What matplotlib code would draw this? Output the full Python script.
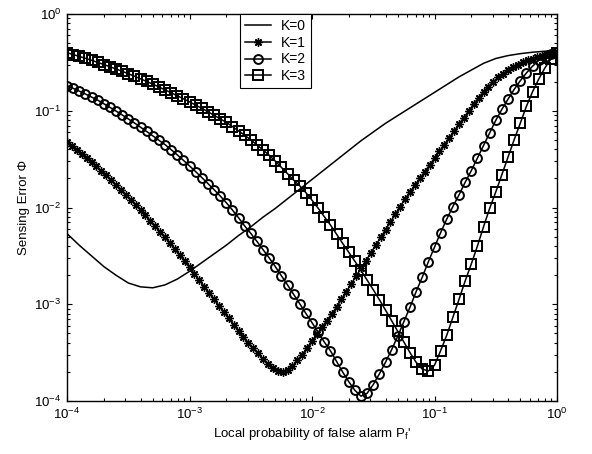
import numpy as np
import matplotlib
matplotlib.use("Agg")
import matplotlib.pyplot as plt
from matplotlib.ticker import LogLocator, NullFormatter

# ---- data (log10 of Pf' grid and log10 of sensing error) ----
labels = ["K=0", "K=1", "K=2", "K=3"]

# K=0 : line only, grid step 0.1 decade
u_k0 = np.linspace(-4, 0, 41)
v_k0 = [-2.27, -2.39, -2.50, -2.61, -2.70, -2.78, -2.82, -2.83, -2.80, -2.74,
        -2.66, -2.57, -2.48, -2.39, -2.29, -2.20, -2.10, -2.01, -1.91, -1.81,
        -1.71, -1.61, -1.51, -1.41, -1.31, -1.22, -1.13, -1.05, -0.97, -0.89,
        -0.81, -0.73, -0.65, -0.58, -0.51, -0.46, -0.43, -0.41, -0.395, -0.385,
        -0.38]

# K=1 : grid step 0.04 decade
u_k1 = np.linspace(-4, 0, 101)
v_k1 = [-1.320, -1.360, -1.401, -1.443, -1.486, -1.530, -1.575, -1.621, -1.668, -1.716,
        -1.765, -1.815, -1.866, -1.918, -1.971, -2.025, -2.080, -2.136, -2.193, -2.251,
        -2.310, -2.370, -2.431, -2.493, -2.556, -2.620, -2.685, -2.751, -2.817, -2.883,
        -2.949, -3.015, -3.081, -3.147, -3.212, -3.276, -3.338, -3.398, -3.455, -3.508,
        -3.57, -3.62, -3.66, -3.69, -3.70, -3.68, -3.64,
        -3.58, -3.52, -3.45, -3.38, -3.31, -3.24, -3.17, -3.10, -3.03, -2.95,
        -2.87, -2.79, -2.71, -2.63, -2.55, -2.47, -2.39, -2.31, -2.23, -2.15,
        -2.07, -1.99, -1.91, -1.84, -1.77, -1.70, -1.63, -1.56, -1.49, -1.42,
        -1.35, -1.28, -1.21, -1.14, -1.07, -1.00, -0.93, -0.865, -0.805, -0.75,
        -0.70, -0.655, -0.615, -0.58, -0.55, -0.525, -0.50, -0.48, -0.46, -0.445,
        -0.43, -0.415, -0.40, -0.39]

# K=2 and K=3 : grid step 0.05 decade
u_k23 = np.linspace(-4, 0, 81)
v_k2 = [-0.740, -0.768, -0.797, -0.827, -0.858, -0.890, -0.927, -0.965, -1.003, -1.043,
        -1.084, -1.126, -1.170, -1.214, -1.259, -1.305, -1.350, -1.402, -1.456, -1.512,
        -1.570, -1.629, -1.690, -1.752, -1.815, -1.880, -1.950, -2.025, -2.105, -2.190,
        -2.267, -2.350, -2.435, -2.520, -2.610, -2.705, -2.800, -2.898, -2.995, -3.095,
        -3.190, -3.290, -3.390, -3.480, -3.590, -3.700, -3.800, -3.890, -3.950,
        -3.92, -3.83, -3.72, -3.60, -3.47, -3.33, -3.18, -3.03, -2.87, -2.72,
        -2.56, -2.41, -2.26, -2.12, -1.99, -1.87, -1.74, -1.62, -1.49, -1.36,
        -1.23, -1.10, -0.985, -0.88, -0.78, -0.69, -0.61, -0.54, -0.48, -0.44,
        -0.41, -0.39]
v_k3 = [-0.400, -0.419, -0.438, -0.458, -0.478, -0.500, -0.522, -0.545, -0.568, -0.592,
        -0.617, -0.643, -0.670, -0.697, -0.725, -0.754, -0.784, -0.814, -0.845, -0.876,
        -0.908, -0.941, -0.975, -1.010, -1.046, -1.083,
        -1.120, -1.163, -1.208, -1.253, -1.300, -1.352, -1.405, -1.459, -1.520, -1.585,
        -1.650, -1.716, -1.776, -1.846, -1.925, -2.007, -2.094, -2.180, -2.275, -2.370,
        -2.463, -2.555, -2.650, -2.750, -2.850, -2.953, -3.060, -3.170, -3.280, -3.390,
        -3.500, -3.600, -3.670, -3.690, -3.630, -3.480, -3.320, -3.135, -2.950, -2.760,
        -2.585, -2.400, -2.200, -2.010, -1.840, -1.660, -1.480, -1.300, -1.130, -0.955,
        -0.805, -0.675, -0.560, -0.465, -0.400]

x_ticks = [1e-4, 1e-3, 1e-2, 1e-1, 1e0]
y_ticks = [1e-4, 1e-3, 1e-2, 1e-1, 1e0]

# ---- style ----
plt.rcParams['font.family'] = ['Liberation Sans', 'DejaVu Sans']
plt.rcParams['font.size'] = 9.5

fig = plt.figure(figsize=(5.92, 4.54), dpi=100)
ax = fig.add_axes([67/592, 1-401/454, 490/592, 387/454])

lw = 1.1
ax.plot(10**u_k0, 10**np.array(v_k0), '-', color='black', lw=lw, label=labels[0])
ax.plot(10**u_k1, 10**np.array(v_k1), '-', color='black', lw=lw, marker=(8, 2, 0),
        ms=6, mew=1.0, label=labels[1])
ax.plot(10**u_k23, 10**np.array(v_k2), '-', color='black', lw=lw, marker='o',
        ms=6.4, mew=1.4, mfc='none', label=labels[2])
ax.plot(10**u_k23, 10**np.array(v_k3), '-', color='black', lw=lw, marker='s',
        ms=6.6, mew=1.4, mfc='none', label=labels[3])

ax.set_xscale('log')
ax.set_yscale('log')
ax.set_xlim(1e-4, 1e0)
ax.set_ylim(1e-4, 1e0)
ax.set_xticks(x_ticks)
ax.set_yticks(y_ticks)
ax.xaxis.set_minor_locator(LogLocator(base=10, subs=np.arange(2, 10), numticks=20))
ax.yaxis.set_minor_locator(LogLocator(base=10, subs=np.arange(2, 10), numticks=20))
ax.xaxis.set_minor_formatter(NullFormatter())
ax.yaxis.set_minor_formatter(NullFormatter())

ax.tick_params(which='both', direction='in', top=True, right=True, width=0.8,
               labelsize=9.5, colors='black')
ax.tick_params(which='major', length=3.5, pad=4)
ax.tick_params(which='minor', length=2)
for s in ax.spines.values():
    s.set_linewidth(1.0)
    s.set_color('black')

ax.set_xlabel(r"Local probability of false alarm $\mathregular{P_f}$'", fontsize=9.5)
ax.set_ylabel("Sensing Error Φ", fontsize=9.5)
ax.xaxis.set_label_coords(0.5, -0.065)
ax.yaxis.set_label_coords(-0.075, 0.5)

leg = ax.legend(loc='upper left', bbox_to_anchor=(0.353, 1.0), borderaxespad=0,
                fontsize=10, handlelength=1.9, handletextpad=0.7, borderpad=0.35,
                labelspacing=0.2, fancybox=False, framealpha=1, edgecolor='black')
leg.get_frame().set_linewidth(0.8)

fig.savefig('out.png', dpi=100)
